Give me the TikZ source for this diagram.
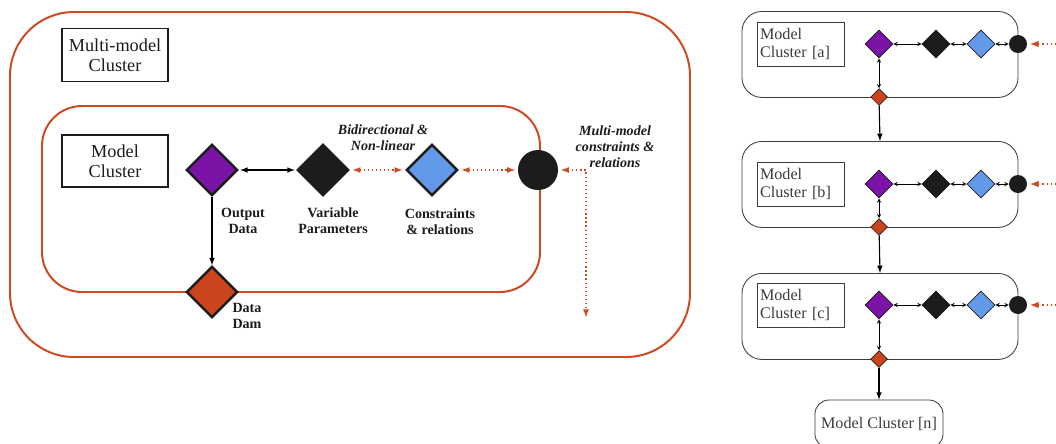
\documentclass[tikz,border=0pt]{standalone}
\usepackage{fontspec}
\setmainfont{Liberation Serif}
\usepackage{tikz}
\usetikzlibrary{arrows}
\usetikzlibrary{shapes,positioning}

\definecolor{clred}{RGB}{208,72,32}
\definecolor{gpurple}{RGB}{123,20,166}
\definecolor{gblack}{RGB}{28,28,28}
\definecolor{gblue}{RGB}{98,153,232}
\definecolor{gorange}{RGB}{204,68,28}
\definecolor{txtgray}{RGB}{60,60,60}

\begin{document}
\begin{tikzpicture}[x=0.025cm,y=-0.025cm,>=latex,
    clline/.style={draw=clred,line width=1.4pt},
    gem/.style={diamond,draw=gblack,line width=1.8pt,minimum size=1.28cm,inner sep=0pt},
    smallgem/.style={diamond,draw=gblack,line width=0.5pt,minimum size=0.7cm,inner sep=0pt},
    tinygem/.style={diamond,draw=gblack,line width=0.5pt,minimum size=0.42cm,inner sep=0pt,fill=gorange},
    labelbox/.style={draw=gblack,line width=0.8pt,align=center,font=\fontsize{13}{14.5}\selectfont,text=gblack},
    smalllabel/.style={draw=txtgray,line width=0.6pt,align=left,text width=2.05cm,inner xsep=2pt,minimum height=1.1cm,font=\fontsize{11.5}{13}\selectfont,text=txtgray},
    clusterbox/.style={draw=txtgray,line width=0.6pt,rounded corners=0.5cm,minimum width=6.9cm,minimum height=2.15cm},
    tag/.style={align=center,font=\fontsize{10}{11.5}\selectfont\bfseries,text=gblack},
    reddots/.style={draw=clred,dotted,line width=0.9pt,shorten >=2pt,shorten <=2pt}]
    \useasboundingbox (0,0) rectangle (1056,443);

    % multi-model cluster and model cluster
    \draw[clline,rounded corners=1.6cm] (10,12) rectangle (690,357);
    \draw[clline,rounded corners=1cm] (42,106) rectangle (540,292);
    \node[labelbox,minimum width=2.65cm,minimum height=1.33cm] (mmlabel) at (115,55) {Multi-model\\Cluster};
    \node[labelbox,minimum width=2.65cm,minimum height=1.3cm] (mclabel) at (115,161) {Model\\Cluster};

    \node[gem,fill=gpurple] (out) at (212,170) {};
    \node[gem,fill=gblack] (var) at (323,170) {};
    \node[gem,fill=gblue] (con) at (432,170) {};
    \node[circle,fill=gblack,minimum size=1cm] (rel) at (538,170) {};
    \node[gem,fill=gorange] (dam) at (212,292) {};
    \coordinate (bend) at (586,170);
    \coordinate (drop) at (586,320);

    \draw[<->,thick,shorten >=1pt,shorten <=1pt] (out) -- (var);
    \draw[reddots,<->] (var) -- (con);
    \draw[reddots,<->] (con) -- (rel);
    \draw[reddots,<->] (rel) -- (bend) -- (drop);
    \draw[->,thick] (out) -- (dam);

    \node[tag] (outtag) at (243,221) {Output\\Data};
    \node[tag] (vartag) at (333,221) {Variable\\Parameters};
    \node[tag] (contag) at (440,222) {Constraints\\\& relations};
    \node[tag] (damtag) at (247,316) {Data\\Dam};
    \node[tag,font=\fontsize{10}{11.5}\selectfont\bfseries\itshape] (bitag) at (383,138) {Bidirectional \&\\Non-linear};
    \node[tag,font=\fontsize{10}{11.5}\selectfont\bfseries\itshape] (mmtag) at (615,147) {Multi-model\\constraints \&\\relations};

    % chain of model clusters
    \foreach \n/\t/\m in {a/11/44,b/141/184,c/273/305}{
        \node[clusterbox,anchor=north] (box\n) at (880,\t) {};
        \node[smalllabel] (lab\n) at (801,\m) {Model\\Cluster [\n]};
        \node[smallgem,fill=gpurple] (out\n) at (879,\m) {};
        \node[smallgem,fill=gblack] (var\n) at (936,\m) {};
        \node[smallgem,fill=gblue] (con\n) at (981,\m) {};
        \node[circle,fill=gblack,minimum size=0.45cm,inner sep=0pt] (rel\n) at (1018,\m) {};
        \node[tinygem] (dam\n) at (879,{\t+86}) {};
        \coordinate (feed\n) at (1064,\m);
        \draw[<->,>=stealth,thin] (out\n) -- (var\n);
        \draw[<->,>=stealth,thin] (var\n) -- (con\n);
        \draw[<->,>=stealth,thin] (con\n) -- (rel\n);
        \draw[<->,>=stealth,thin] (out\n) -- (dam\n);
        \draw[reddots,line width=1.1pt,->] (feed\n) -- (rel\n);
    }
    \node[draw=txtgray,line width=0.6pt,rounded corners=0.35cm,minimum width=3.2cm,minimum height=1.2cm,font=\fontsize{11.5}{13}\selectfont,text=txtgray] (boxn) at (879,424) {Model Cluster [n]};

    \draw[->,thick] (dama) -- (boxb.north);
    \draw[->,thick] (damb) -- (boxc.north);
    \draw[->,thick] (damc) -- (boxn.north);
\end{tikzpicture}
\end{document}
